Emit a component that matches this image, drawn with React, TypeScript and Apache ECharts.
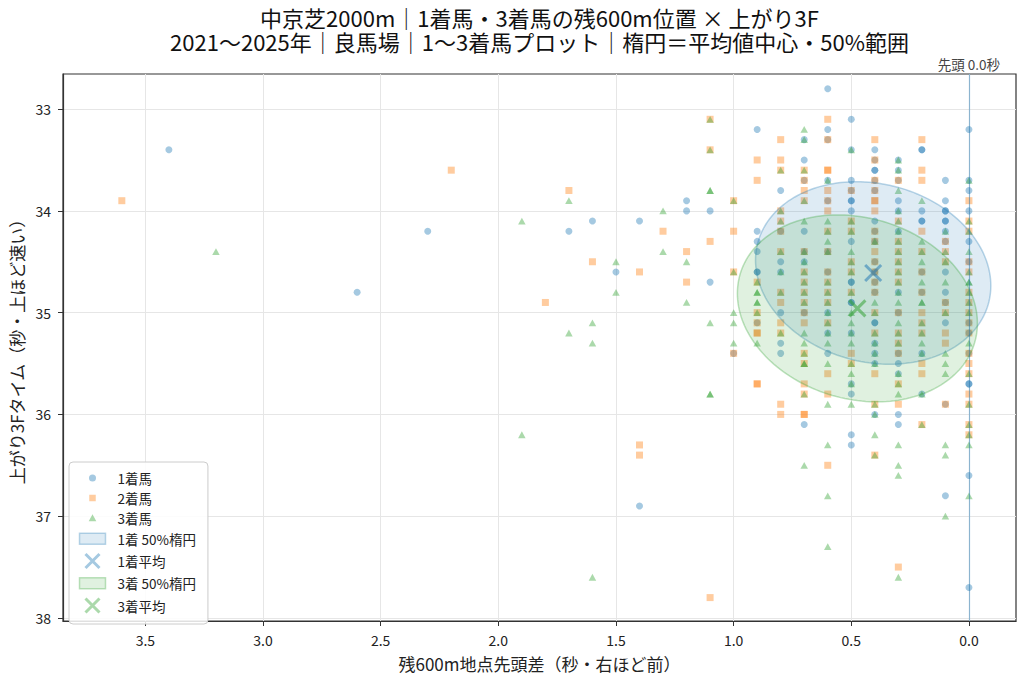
import React, { useEffect, useRef } from "react";
import * as echarts from "echarts";

const TITLE_LINE1 = "中京芝2000m｜1着馬・3着馬の残600m位置 × 上がり3F";
const TITLE_LINE2 = "2021〜2025年｜良馬場｜1〜3着馬プロット｜楕円＝平均値中心・50%範囲";
const X_NAME = "残600m地点先頭差（秒・右ほど前）";
const Y_NAME = "上がり3Fタイム（秒・上ほど速い）";
const LEADER_LABEL = "先頭 0.0秒";

const xTicks = [0, 0.5, 1, 1.5, 2, 2.5, 3, 3.5];
const yTicks = [33, 34, 35, 36, 37, 38];
const xRange = [-0.2, 3.85];
const yRange = [32.655, 38.03];

// [残600m先頭差, 上がり3F]
const firstPlace: [number, number][] = [
  [0.6, 32.8],
  [0.5, 33.1],
  [0.9, 33.2], [0.6, 33.2], [0.0, 33.2],
  [0.7, 33.3], [0.6, 33.3],
  [3.4, 33.4], [0.5, 33.4], [0.4, 33.4], [0.2, 33.4], [0.2, 33.4],
  [0.7, 33.5], [0.4, 33.5], [0.3, 33.5],
  [0.4, 33.6], [0.4, 33.6], [0.3, 33.6],
  [0.7, 33.7], [0.6, 33.7], [0.5, 33.7], [0.4, 33.7], [0.3, 33.7], [0.1, 33.7], [0.0, 33.7],
  [0.8, 33.8], [0.5, 33.8], [0.4, 33.8], [0.0, 33.8],
  [1.2, 33.9], [0.6, 33.9], [0.5, 33.9], [0.5, 33.9], [0.3, 33.9], [0.1, 33.9],
  [1.2, 34.0], [1.1, 34.0], [0.5, 34.0], [0.3, 34.0], [0.2, 34.0], [0.1, 34.0], [0.1, 34.0], [0.0, 34.0],
  [1.6, 34.1], [1.4, 34.1], [0.4, 34.1], [0.2, 34.1], [0.2, 34.1], [0.1, 34.1], [0.1, 34.1],
  [2.3, 34.2], [1.7, 34.2], [0.9, 34.2], [0.8, 34.2], [0.7, 34.2], [0.4, 34.2], [0.3, 34.2], [0.1, 34.2],
  [0.9, 34.3], [0.5, 34.3], [0.4, 34.3], [0.1, 34.3], [0.0, 34.3],
  [0.9, 34.4], [0.7, 34.4], [0.6, 34.4],
  [0.8, 34.5], [0.7, 34.5], [0.4, 34.5], [0.0, 34.5],
  [1.5, 34.6], [0.9, 34.6], [0.9, 34.6], [0.8, 34.6], [0.6, 34.6], [0.4, 34.6], [0.2, 34.6], [0.1, 34.6],
  [1.1, 34.7], [0.5, 34.7], [0.5, 34.7], [0.4, 34.7],
  [2.6, 34.8], [0.4, 34.8], [0.3, 34.8], [0.2, 34.8], [0.1, 34.8],
  [0.5, 34.9], [0.5, 34.9], [0.1, 34.9],
  [0.8, 35.0], [0.7, 35.0], [0.6, 35.0], [0.3, 35.0],
  [0.9, 35.1], [0.4, 35.1], [0.4, 35.1], [0.1, 35.1], [0.0, 35.1],
  [0.6, 35.2], [0.5, 35.2], [0.0, 35.2],
  [0.8, 35.3], [0.4, 35.3],
  [1.0, 35.4], [0.8, 35.4], [0.6, 35.4], [0.4, 35.4], [0.3, 35.4], [0.2, 35.4], [0.0, 35.4],
  [0.4, 35.5], [0.3, 35.5],
  [0.3, 35.6],
  [0.5, 35.7], [0.0, 35.7], [0.0, 35.7],
  [0.5, 35.8], [0.2, 35.8],
  [0.1, 35.9],
  [0.4, 36.0], [0.3, 36.0],
  [0.7, 36.1], [0.3, 36.1],
  [0.5, 36.2],
  [0.5, 36.3],
  [0.0, 36.6],
  [0.1, 36.8],
  [1.4, 36.9],
  [0.0, 37.7],
];

const secondPlace: [number, number][] = [
  [1.1, 33.1], [0.6, 33.1],
  [0.8, 33.3], [0.6, 33.3], [0.4, 33.3], [0.2, 33.3],
  [1.1, 33.4],
  [0.9, 33.5], [0.8, 33.5], [0.4, 33.5],
  [2.2, 33.6], [0.8, 33.6], [0.7, 33.6], [0.6, 33.6], [0.6, 33.6], [0.2, 33.6],
  [0.9, 33.7], [0.7, 33.7], [0.4, 33.7], [0.3, 33.7], [0.2, 33.7],
  [1.7, 33.8], [0.7, 33.8], [0.6, 33.8], [0.5, 33.8], [0.4, 33.8],
  [3.6, 33.9], [1.0, 33.9], [0.7, 33.9], [0.6, 33.9], [0.4, 33.9], [0.4, 33.9], [0.0, 33.9],
  [0.8, 34.0], [0.6, 34.0], [0.4, 34.0],
  [0.8, 34.1], [0.5, 34.1], [0.3, 34.1], [0.0, 34.1],
  [1.3, 34.2], [1.0, 34.2], [0.8, 34.2], [0.6, 34.2], [0.5, 34.2], [0.4, 34.2], [0.2, 34.2], [0.0, 34.2],
  [1.1, 34.3], [0.4, 34.3], [0.3, 34.3], [0.1, 34.3],
  [1.2, 34.4], [0.8, 34.4], [0.7, 34.4], [0.6, 34.4], [0.4, 34.4], [0.3, 34.4], [0.2, 34.4], [0.1, 34.4],
  [1.6, 34.5], [0.5, 34.5], [0.4, 34.5], [0.3, 34.5], [0.1, 34.5], [0.0, 34.5],
  [1.4, 34.6], [1.0, 34.6], [0.7, 34.6], [0.6, 34.6], [0.5, 34.6], [0.4, 34.6], [0.3, 34.6], [0.2, 34.6], [0.0, 34.6],
  [1.2, 34.7], [0.9, 34.7], [0.7, 34.7], [0.6, 34.7], [0.4, 34.7], [0.3, 34.7],
  [0.8, 34.8], [0.7, 34.8], [0.6, 34.8], [0.5, 34.8], [0.4, 34.8], [0.2, 34.8], [0.0, 34.8],
  [1.8, 34.9], [0.8, 34.9], [0.7, 34.9], [0.6, 34.9], [0.1, 34.9], [0.0, 34.9],
  [0.9, 35.0], [0.7, 35.0], [0.4, 35.0], [0.3, 35.0], [0.2, 35.0], [0.1, 35.0], [0.0, 35.0],
  [0.9, 35.1], [0.8, 35.1], [0.7, 35.1], [0.6, 35.1], [0.2, 35.1], [0.0, 35.1],
  [0.9, 35.2], [0.9, 35.2], [0.8, 35.2], [0.4, 35.2], [0.3, 35.2], [0.2, 35.2], [0.1, 35.2], [0.0, 35.2],
  [0.3, 35.3], [0.1, 35.3],
  [1.0, 35.4], [0.7, 35.4], [0.5, 35.4], [0.3, 35.4], [0.0, 35.4],
  [0.7, 35.5], [0.5, 35.5], [0.2, 35.5], [0.0, 35.5],
  [0.6, 35.6], [0.4, 35.6], [0.2, 35.6], [0.0, 35.6],
  [0.9, 35.7], [0.9, 35.7], [0.7, 35.7], [0.3, 35.7],
  [0.7, 35.8], [0.6, 35.8], [0.0, 35.8],
  [0.8, 35.9], [0.4, 35.9], [0.3, 35.9], [0.1, 35.9], [0.0, 35.9],
  [0.8, 36.0], [0.7, 36.0], [0.7, 36.0],
  [0.2, 36.1], [0.0, 36.1],
  [0.0, 36.2],
  [1.4, 36.3],
  [1.4, 36.4], [0.4, 36.4],
  [0.6, 36.5],
  [0.3, 37.5],
  [1.1, 37.8],
];

const thirdPlace: [number, number][] = [
  [1.1, 33.1],
  [0.7, 33.2],
  [0.7, 33.3],
  [1.1, 33.4], [0.5, 33.4],
  [0.3, 33.5],
  [0.8, 33.6], [0.7, 33.6], [0.3, 33.6],
  [0.6, 33.7], [0.0, 33.7],
  [1.1, 33.8], [1.1, 33.8], [0.3, 33.8],
  [1.7, 33.9], [1.0, 33.9], [0.7, 33.9], [0.2, 33.9],
  [1.3, 34.0], [0.8, 34.0], [0.3, 34.0],
  [1.9, 34.1], [0.8, 34.1], [0.7, 34.1], [0.6, 34.1], [0.5, 34.1], [0.3, 34.1], [0.0, 34.1],
  [0.6, 34.2], [0.5, 34.2], [0.3, 34.2], [0.1, 34.2], [0.0, 34.2],
  [0.6, 34.3], [0.4, 34.3], [0.3, 34.3], [0.2, 34.3],
  [3.2, 34.4], [1.3, 34.4], [0.8, 34.4], [0.7, 34.4], [0.6, 34.4], [0.5, 34.4], [0.3, 34.4], [0.2, 34.4], [0.1, 34.4], [0.0, 34.4],
  [1.5, 34.5], [1.2, 34.5], [0.7, 34.5], [0.5, 34.5], [0.3, 34.5], [0.2, 34.5], [0.1, 34.5],
  [1.0, 34.6], [0.8, 34.6], [0.7, 34.6], [0.5, 34.6], [0.3, 34.6], [0.0, 34.6],
  [0.9, 34.7], [0.7, 34.7], [0.6, 34.7], [0.3, 34.7], [0.2, 34.7], [0.1, 34.7], [0.0, 34.7], [0.0, 34.7],
  [1.5, 34.8], [0.9, 34.8], [0.9, 34.8], [0.8, 34.8], [0.7, 34.8], [0.6, 34.8], [0.5, 34.8], [0.3, 34.8], [0.0, 34.8],
  [1.2, 34.9], [0.9, 34.9], [0.9, 34.9], [0.7, 34.9], [0.6, 34.9], [0.4, 34.9], [0.3, 34.9], [0.2, 34.9], [0.2, 34.9], [0.0, 34.9],
  [1.0, 35.0], [0.9, 35.0], [0.6, 35.0], [0.5, 35.0], [0.4, 35.0], [0.1, 35.0], [0.0, 35.0],
  [1.6, 35.1], [1.1, 35.1], [1.0, 35.1], [0.6, 35.1], [0.5, 35.1], [0.3, 35.1], [0.2, 35.1],
  [1.7, 35.2], [0.8, 35.2], [0.7, 35.2], [0.6, 35.2], [0.5, 35.2], [0.4, 35.2], [0.3, 35.2], [0.2, 35.2],
  [1.6, 35.3], [1.0, 35.3], [0.9, 35.3], [0.7, 35.3], [0.6, 35.3], [0.5, 35.3], [0.4, 35.3], [0.3, 35.3], [0.2, 35.3], [0.0, 35.3],
  [0.7, 35.4], [0.4, 35.4], [0.2, 35.4], [0.1, 35.4],
  [0.7, 35.5], [0.7, 35.5], [0.6, 35.5], [0.5, 35.5], [0.4, 35.5], [0.1, 35.5],
  [0.5, 35.6], [0.3, 35.6], [0.1, 35.6], [0.0, 35.6],
  [0.5, 35.7], [0.3, 35.7],
  [1.1, 35.8], [1.1, 35.8], [0.7, 35.8], [0.3, 35.8], [0.2, 35.8],
  [0.6, 35.9], [0.5, 35.9], [0.4, 35.9], [0.0, 35.9],
  [0.4, 36.0],
  [0.2, 36.1], [0.0, 36.1],
  [1.9, 36.2], [0.4, 36.2], [0.0, 36.2],
  [0.6, 36.3], [0.3, 36.3], [0.1, 36.3], [0.0, 36.3],
  [0.4, 36.4], [0.1, 36.4],
  [0.7, 36.5], [0.3, 36.5],
  [0.3, 36.6],
  [0.6, 36.8], [0.0, 36.8],
  [0.1, 37.0],
  [0.6, 37.3],
  [1.6, 37.6], [0.3, 37.6],
];

// 平均値（楕円中心）
const firstMean: [number, number] = [0.407, 34.61];
const thirdMean: [number, number] = [0.474, 34.958];
// 50%楕円: [x方向半幅, y方向半幅, 相関]
const firstEllipse = [0.5, 0.897, -0.14];
const thirdEllipse = [0.51, 0.918, -0.16];

const FONT = '"Noto Sans CJK JP", "Noto Sans", sans-serif';
const BLUE = "31,119,180";
const ORANGE = "255,127,14";
const GREEN = "44,160,44";
const rgba = (c: string, a: number) => `rgba(${c},${a})`;

const BOX = "M0 0M40 14";
const ICON_CIRCLE = `path://${BOX}M23.5 7A3.5 3.5 0 1 1 16.5 7A3.5 3.5 0 1 1 23.5 7Z`;
const ICON_SQUARE = `path://${BOX}M16.75 3.75H23.25V10.25H16.75Z`;
const ICON_TRI = `path://${BOX}M20 3.3L23.8 10.2L16.2 10.2Z`;
const ICON_PATCH = `path://${BOX}M7 1.5H33V12.5H7Z`;
const ICON_X = `path://${BOX}M13 0L27 14M27 0L13 14`;

function ellipseRenderer(params: [number, number, number], fill: string, stroke: string) {
  const [hx, hy, rho] = params;
  const k = Math.sqrt(1 - rho * rho);
  return (_p: any, api: any) => {
    const cx = api.value(0);
    const cy = api.value(1);
    const pts: number[][] = [];
    const n = 180;
    for (let i = 0; i < n; i++) {
      const t = (2 * Math.PI * i) / n;
      const x = cx + hx * Math.cos(t);
      const y = cy + hy * (rho * Math.cos(t) + k * Math.sin(t));
      pts.push(api.coord([x, y]));
    }
    return {
      type: "polygon",
      shape: { points: pts },
      style: { fill, stroke, lineWidth: 1.5 },
    };
  };
}

export default function App() {
  const ref = useRef<HTMLDivElement>(null);
  useEffect(() => {
    if (!ref.current) return;
    const chart = echarts.init(ref.current, null, { renderer: "svg" });
    const tickFont = { fontSize: 14, color: "#222", fontFamily: FONT };
    const titleStyle = { fontSize: 22, fontWeight: "normal", color: "#111", fontFamily: FONT };
    const option: any = {
      animation: false,
      backgroundColor: "#ffffff",
      textStyle: { fontFamily: FONT },
      title: [
        { text: TITLE_LINE1, left: 539.5, top: 6, textAlign: "center", padding: 0, textStyle: titleStyle },
        { text: TITLE_LINE2, left: 539.5, top: 30, textAlign: "center", padding: 0, textStyle: titleStyle },
      ],
      grid: {
        left: 63,
        right: 8,
        top: 74,
        bottom: 54,
        show: true,
        borderColor: "#333",
        borderWidth: 1.2,
        backgroundColor: "transparent",
        outerBoundsMode: "none",
      },
      legend: {
        orient: "vertical",
        left: 69,
        top: 462,
        padding: [9, 12, 10, 2],
        itemWidth: 40,
        itemHeight: 14,
        itemGap: 6,
        selectedMode: false,
        backgroundColor: "rgba(255,255,255,0.85)",
        borderColor: "#cccccc",
        borderWidth: 1,
        borderRadius: 4,
        textStyle: { fontSize: 13.5, color: "#222", fontFamily: FONT },
        data: [
          { name: "1着馬", icon: ICON_CIRCLE, itemStyle: { color: rgba(BLUE, 0.5), borderWidth: 0 } },
          { name: "2着馬", icon: ICON_SQUARE, itemStyle: { color: rgba(ORANGE, 0.5), borderWidth: 0 } },
          { name: "3着馬", icon: ICON_TRI, itemStyle: { color: rgba(GREEN, 0.5), borderWidth: 0 } },
          {
            name: "1着 50%楕円",
            icon: ICON_PATCH,
            itemStyle: { color: rgba(BLUE, 0.15), borderColor: rgba(BLUE, 0.3), borderWidth: 1.5 },
          },
          {
            name: "1着平均",
            icon: ICON_X,
            itemStyle: { color: "transparent", borderColor: rgba(BLUE, 0.5), borderWidth: 3 },
          },
          {
            name: "3着 50%楕円",
            icon: ICON_PATCH,
            itemStyle: { color: rgba(GREEN, 0.15), borderColor: rgba(GREEN, 0.3), borderWidth: 1.5 },
          },
          {
            name: "3着平均",
            icon: ICON_X,
            itemStyle: { color: "transparent", borderColor: rgba(GREEN, 0.5), borderWidth: 3 },
          },
        ],
      },
      xAxis: {
        type: "value",
        inverse: true,
        min: xRange[0],
        max: xRange[1],
        splitNumber: 8,
        name: X_NAME,
        nameLocation: "middle",
        nameGap: 34,
        nameTextStyle: { fontSize: 17, color: "#222", fontFamily: FONT },
        axisLine: { show: true, onZero: false, lineStyle: { color: "#333", width: 1.2 } },
        axisTick: { show: true, length: 5, customValues: xTicks, lineStyle: { color: "#333", width: 1 } },
        axisLabel: {
          ...tickFont,
          margin: 12,
          customValues: xTicks,
          formatter: (v: number) => (Math.abs(v) < 1e-9 ? "0.0" : v.toFixed(1)),
        },
        splitLine: { show: true, lineStyle: { color: "#e6e6e6", width: 1 } },
      },
      yAxis: {
        type: "value",
        inverse: true,
        min: yRange[0],
        max: yRange[1],
        splitNumber: 5,
        name: Y_NAME,
        nameLocation: "middle",
        nameGap: 31,
        nameTextStyle: { fontSize: 17, color: "#222", fontFamily: FONT },
        axisLine: { show: true, onZero: false, lineStyle: { color: "#333", width: 1.2 } },
        axisTick: { show: true, length: 5, customValues: yTicks, lineStyle: { color: "#333", width: 1 } },
        axisLabel: {
          ...tickFont,
          margin: 12,
          customValues: yTicks,
          formatter: (v: number) => String(Math.round(v)),
        },
        splitLine: { show: true, lineStyle: { color: "#e6e6e6", width: 1 } },
      },
      series: [
        {
          name: "1着馬",
          type: "scatter",
          z: 1,
          symbol: "circle",
          symbolSize: 7,
          data: firstPlace,
          itemStyle: { color: rgba(BLUE, 0.5) },
          emphasis: { disabled: true },
        },
        {
          name: "2着馬",
          type: "scatter",
          z: 1,
          symbol: "rect",
          symbolSize: 7,
          data: secondPlace,
          itemStyle: { color: rgba(ORANGE, 0.5) },
          emphasis: { disabled: true },
        },
        {
          name: "3着馬",
          type: "scatter",
          z: 1,
          symbol: "triangle",
          symbolSize: [7.5, 6.8],
          data: thirdPlace,
          itemStyle: { color: rgba(GREEN, 0.5) },
          emphasis: { disabled: true },
        },
        {
          name: "1着 50%楕円",
          type: "custom",
          z: 2,
          silent: true,
          data: [firstMean],
          encode: { x: 0, y: 1 },
          renderItem: ellipseRenderer(firstEllipse as any, rgba(BLUE, 0.15), rgba(BLUE, 0.3)),
        },
        {
          name: "1着平均",
          type: "scatter",
          z: 3,
          symbol: "path://M0 0L10 10M10 0L0 10",
          symbolSize: 16,
          data: [firstMean],
          itemStyle: { color: "transparent", borderColor: rgba(BLUE, 0.65), borderWidth: 3 },
          emphasis: { disabled: true },
        },
        {
          name: "3着 50%楕円",
          type: "custom",
          z: 2,
          silent: true,
          data: [thirdMean],
          encode: { x: 0, y: 1 },
          renderItem: ellipseRenderer(thirdEllipse as any, rgba(GREEN, 0.15), rgba(GREEN, 0.3)),
        },
        {
          name: "3着平均",
          type: "scatter",
          z: 3,
          symbol: "path://M0 0L10 10M10 0L0 10",
          symbolSize: 16,
          data: [thirdMean],
          itemStyle: { color: "transparent", borderColor: rgba(GREEN, 0.65), borderWidth: 3 },
          emphasis: { disabled: true },
          markLine: {
            silent: true,
            symbol: "none",
            z: 4,
            lineStyle: { color: rgba(BLUE, 0.45), width: 1.2, type: "solid" },
            label: {
              show: true,
              position: "start",
              distance: 3,
              formatter: LEADER_LABEL,
              color: "#444",
              fontSize: 13.5,
              fontFamily: FONT,
            },
            emphasis: { disabled: true },
            data: [{ xAxis: 0 }],
          },
        },
      ],
    };
    chart.setOption(option);
    return () => chart.dispose();
  }, []);
  return (
    <div
      ref={ref}
      style={{
        position: "fixed",
        left: 0,
        top: 0,
        width: 1024,
        height: 675,
        background: "#fff",
        opacity: 0.999,
      }}
    />
  );
}
